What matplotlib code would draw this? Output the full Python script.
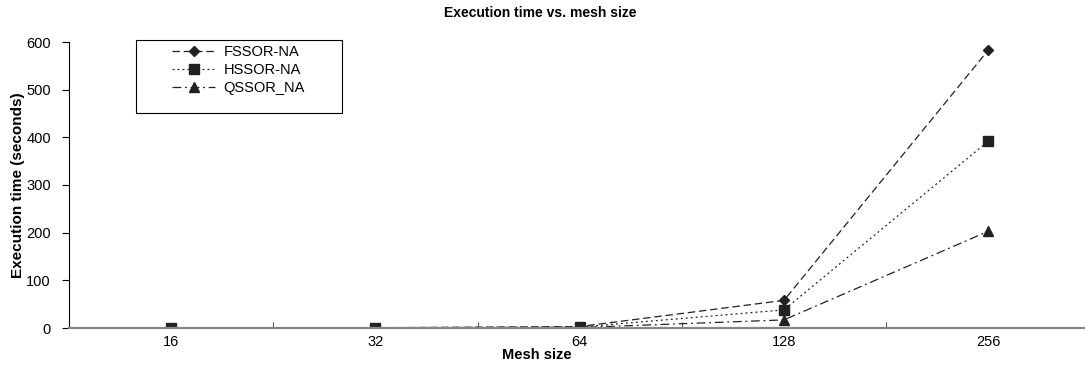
import matplotlib
matplotlib.use("Agg")
import matplotlib.pyplot as plt
from matplotlib.patches import Rectangle

plt.rcParams['font.family'] = ['Liberation Sans', 'DejaVu Sans']

mesh = ['16', '32', '64', '128', '256']
fssor = [0.2, 0.6, 3.0, 58, 583]
hssor = [0.1, 0.4, 2.0, 38, 392]
qssor = [0.05, 0.2, 1.0, 17, 203]

fig = plt.figure(figsize=(10.85, 3.68), dpi=100)
ax = fig.add_axes([69/1085, 40/368, 1.0 - 69/1085 + 0.005, (328 - 42)/368])

x = [i + 0.5 for i in range(len(mesh))]
ax.plot(x, fssor, color='#222222', lw=0.9, ls=(0, (6, 3)), marker='D', ms=5.5,
        label='FSSOR-NA')
ax.plot(x, hssor, color='#222222', lw=0.9, ls=(0, (1.5, 2.5)), marker='s', ms=6.5,
        label='HSSOR-NA')
ax.plot(x, qssor, color='#222222', lw=0.9, ls=(0, (7, 3, 1.5, 3)), marker='^', ms=7,
        label='QSSOR_NA')

ax.set_xlim(0, 5)
ax.set_ylim(0, 600)
ax.set_yticks(range(0, 601, 100))
ax.set_xticks(range(0, 6))
ax.set_xticklabels([])
ax.set_xticks(x, minor=True)
ax.set_xticklabels(mesh, minor=True)
ax.tick_params(axis='x', which='minor', length=0, labelsize=10.5, pad=5)
ax.tick_params(axis='x', which='major', length=4, direction='in', color='#555555')
ax.tick_params(axis='y', labelsize=10.5, length=5, direction='out', width=0.8, pad=8)

for s in ['top', 'right']:
    ax.spines[s].set_visible(False)
ax.spines['bottom'].set_color('#888888')
ax.spines['bottom'].set_linewidth(1.6)
ax.spines['left'].set_linewidth(0.8)

ax.set_xlabel('Mesh size', fontsize=10.5, fontweight='bold', labelpad=-1)
ax.xaxis.label.set_x(0.458)
ax.set_ylabel('Execution time (seconds)', fontsize=11, fontweight='bold', labelpad=1)
fig.text(0.498, 0.965, 'Execution time vs. mesh size', ha='center', va='center',
         fontsize=10, fontweight='bold')

# legend box
fig.patches.append(Rectangle((136/1085, 1 - 113/368), (342 - 136)/1085, 73/368,
                             transform=fig.transFigure, fill=False, ec='black', lw=0.8))
ax.legend(loc='upper left', bbox_to_anchor=(160/1085, 1 - 33/368),
          bbox_transform=fig.transFigure, frameon=False, fontsize=10.5,
          handlelength=3.0, handletextpad=0.55, labelspacing=0.3, borderpad=0.3)

fig.savefig('out.png', dpi=100)
